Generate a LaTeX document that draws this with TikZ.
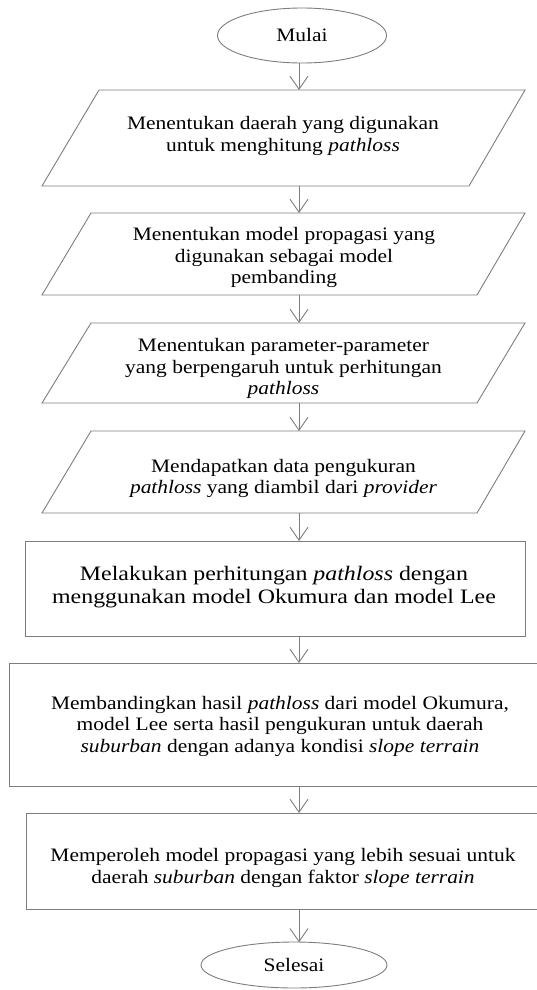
\documentclass[tikz,border=0pt]{standalone}
\usepackage{fontspec}
\setmainfont[FakeStretch=1.13]{Liberation Serif}
\newfontfamily\bigfont[FakeStretch=1.165]{Liberation Serif}
\usetikzlibrary{arrows.meta,shapes.geometric}
\definecolor{linegray}{RGB}{125,125,125}
\begin{document}
\begin{tikzpicture}[x=1pt,y=-1pt,
  shapeline/.style={draw=linegray,line width=0.9pt},
  arr/.style={draw=linegray,line width=0.9pt,-{Straight Barb[length=13pt,width=18pt,line width=0.9pt]}},
  txt/.style={align=center,inner sep=0pt,font=\fontsize{19}{21.5}\selectfont},
  bigtxt/.style={align=center,inner sep=0pt,font=\bigfont\fontsize{20.5}{22.5}\selectfont},
  term/.style={ellipse,draw=linegray,line width=0.9pt,inner sep=0pt,font=\fontsize{19}{21.5}\selectfont}]
\useasboundingbox (0,0) rectangle (536,990);

% terminals
\node[term,minimum width=169pt,minimum height=55pt] (mulai) at (302,35.5) {Mulai};
\node[term,minimum width=186pt,minimum height=46pt] (selesai) at (294,965) {Selesai};

% parallelograms
\draw[shapeline] (99,90) -- (525,90) -- (469,186) -- (42,186) -- cycle;
\draw[shapeline] (91,213) -- (525,213) -- (477,295) -- (42,295) -- cycle;
\draw[shapeline] (91,323) -- (525,323) -- (477,403) -- (42,403) -- cycle;
\draw[shapeline] (91,431) -- (525,431) -- (477,513) -- (42,513) -- cycle;

% process boxes
\draw[shapeline] (25,541) rectangle (525,636);
\draw[shapeline] (537,663) -- (9,663) -- (9,786) -- (537,786);
\draw[shapeline] (537,813) -- (26,813) -- (26,909) -- (537,909);

% texts
\node[txt] (t1) at (283,136) {Menentukan daerah yang digunakan\\untuk menghitung \textit{pathloss}};
\node[txt] (t2) at (284,257.5) {Menentukan model propagasi yang\\digunakan sebagai model\\pembanding};
\node[txt] (t3) at (283.5,368.5) {Menentukan parameter-parameter\\yang berpengaruh untuk perhitungan\\\textit{pathloss}};
\node[txt] (t4) at (283.5,478.5) {Mendapatkan data pengukuran\\\textit{pathloss} yang diambil dari \textit{provider}};
\node[bigtxt] (t5) at (274,587) {Melakukan perhitungan \textit{pathloss} dengan\\menggunakan model Okumura dan model Lee};
\node[txt] (t6) at (280,726) {Membandingkan hasil \textit{pathloss} dari model Okumura,\\model Lee serta hasil pengukuran untuk daerah\\\textit{suburban} dengan adanya kondisi \textit{slope terrain}};
\node[txt] (t7) at (283,868) {Memperoleh model propagasi yang lebih sesuai untuk\\daerah \textit{suburban} dengan faktor \textit{slope terrain}};

% connector end points
\coordinate (a0) at (299,63);
\coordinate (b1) at (299,90);  \coordinate (a1) at (299,186);
\coordinate (b2) at (299,213); \coordinate (a2) at (299,295);
\coordinate (b3) at (299,323); \coordinate (a3) at (299,403);
\coordinate (b4) at (299,431); \coordinate (a4) at (299,513);
\coordinate (b5) at (299,541); \coordinate (a5) at (299,636);
\coordinate (b6) at (299,663); \coordinate (a6) at (299,786);
\coordinate (b7) at (299,813); \coordinate (a7) at (299,909);
\coordinate (b8) at (299,942.3);

\draw[arr] (a0) -- (b1);
\draw[arr] (a1) -- (b2);
\draw[arr] (a2) -- (b3);
\draw[arr] (a3) -- (b4);
\draw[arr] (a4) -- (b5);
\draw[arr] (a5) -- (b6);
\draw[arr] (a6) -- (b7);
\draw[arr] (a7) -- (b8);
\end{tikzpicture}
\end{document}
